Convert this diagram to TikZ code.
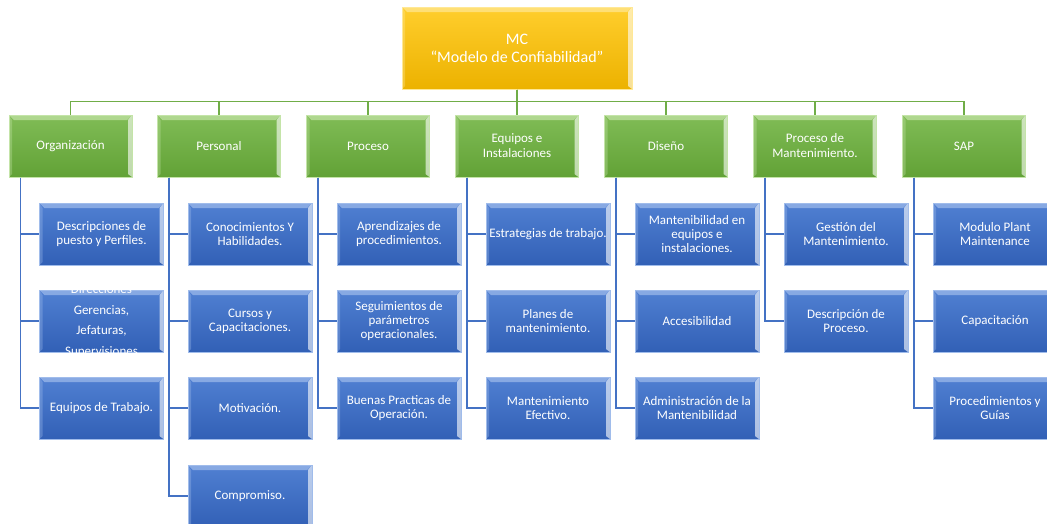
\documentclass[tikz,border=0pt]{standalone}
\usepackage{fontspec}
\setmainfont{Carlito}

\definecolor{mctop}{RGB}{255,206,45}
\definecolor{mcbot}{RGB}{236,178,0}
\definecolor{mclight}{RGB}{255,232,150}
\definecolor{grtop}{RGB}{128,188,86}
\definecolor{grbot}{RGB}{98,162,54}
\definecolor{grlight}{RGB}{196,228,168}
\definecolor{bltop}{RGB}{80,128,210}
\definecolor{blbot}{RGB}{50,96,182}
\definecolor{bllight}{RGB}{160,188,235}
\definecolor{grline}{RGB}{112,173,71}
\definecolor{blline}{RGB}{68,114,196}

\begin{document}
\begin{tikzpicture}[x=1pt, y=-1pt,
	bevel/.style={path picture={
		\fill[#1, opacity=0.7] (path picture bounding box.north west)--(path picture bounding box.north east)--([xshift=-5pt, yshift=-5pt]path picture bounding box.north east)--([xshift=5pt, yshift=-5pt]path picture bounding box.north west)--cycle;
		\fill[white, opacity=0.6] (path picture bounding box.north east)--(path picture bounding box.south east)--([xshift=-4pt, yshift=3pt]path picture bounding box.south east)--([xshift=-4pt, yshift=-5pt]path picture bounding box.north east)--cycle;
		\fill[#1, opacity=0.35] (path picture bounding box.north west)--(path picture bounding box.south west)--([xshift=3pt, yshift=3pt]path picture bounding box.south west)--([xshift=3pt, yshift=-5pt]path picture bounding box.north west)--cycle;}},
	mcbox/.style={rectangle, draw=mclight, line width=1pt, top color=mctop, bottom color=mcbot, bevel=mclight, text=white, minimum width=230pt, minimum height=82pt, inner sep=1pt, align=center, font=\fontsize{16}{18}\selectfont},
	areabox/.style={rectangle, draw=grlight, line width=1pt, top color=grtop, bottom color=grbot, bevel=grlight, text=white, minimum width=123pt, minimum height=62pt, inner sep=1pt, align=center, font=\fontsize{13}{15}\selectfont},
	itembox/.style={rectangle, draw=bllight, line width=1pt, top color=bltop, bottom color=blbot, bevel=bllight, text=white, minimum width=124pt, minimum height=62pt, inner sep=1pt, align=center, font=\fontsize{13}{14}\selectfont},
	greenline/.style={draw=grline, line width=1.6pt},
	blueline/.style={draw=blline, line width=1.6pt}]
		\useasboundingbox (0, 0) rectangle (1047, 523);
		% nivel superior
		\node(MC) at (517, 48)[mcbox]{MC\\``Modelo de Confiabilidad''};
		% areas
		\node(ORG) at (70.5, 146)[areabox]{Organización};
		\node(PER) at (219, 146)[areabox]{Personal};
		\node(PRO) at (368, 146)[areabox]{Proceso};
		\node(EQU) at (517, 146)[areabox]{Equipos e\\Instalaciones};
		\node(DIS) at (666, 146)[areabox]{Diseño};
		\node(PMA) at (815, 146)[areabox]{Proceso de\\Mantenimiento.};
		\node(SAP) at (964, 146)[areabox]{SAP};
		\draw[greenline] (MC.south)--++(0, 12)-|(ORG.north);
		\draw[greenline] (MC.south)--++(0, 12)-|(PER.north);
		\draw[greenline] (MC.south)--++(0, 12)-|(PRO.north);
		\draw[greenline] (MC.south)--(EQU.north);
		\draw[greenline] (MC.south)--++(0, 12)-|(DIS.north);
		\draw[greenline] (MC.south)--++(0, 12)-|(PMA.north);
		\draw[greenline] (MC.south)--++(0, 12)-|(SAP.north);
		% Organizacion
		\node(ORG1) at (101.5, 234)[itembox]{Descripciones de\\puesto y Perfiles.};
		\node(ORG2) at (101.5, 321)[itembox, label={[text=white, align=center, font=\fontsize{13}{20.5}\selectfont]center:{Direcciones\\Gerencias,\\Jefaturas,\\Supervisiones}}]{};
		\node(ORG3) at (101.5, 408)[itembox]{Equipos de Trabajo.};
		% Personal
		\node(PER1) at (250, 234)[itembox]{Conocimientos Y\\Habilidades.};
		\node(PER2) at (250, 321)[itembox]{Cursos y\\Capacitaciones.};
		\node(PER3) at (250, 408)[itembox]{Motivación.};
		\node(PER4) at (250, 496)[itembox]{Compromiso.};
		% Proceso
		\node(PRO1) at (399, 234)[itembox]{Aprendizajes de\\procedimientos.};
		\node(PRO2) at (399, 321)[itembox]{Seguimientos de\\parámetros\\operacionales.};
		\node(PRO3) at (399, 408)[itembox]{Buenas Practicas de\\Operación.};
		% Equipos e Instalaciones
		\node(EQU1) at (548, 234)[itembox]{Estrategias de trabajo.};
		\node(EQU2) at (548, 321)[itembox]{Planes de\\mantenimiento.};
		\node(EQU3) at (548, 408)[itembox]{Mantenimiento\\Efectivo.};
		% Diseno
		\node(DIS1) at (697, 234)[itembox]{Mantenibilidad en\\equipos e\\instalaciones.};
		\node(DIS2) at (697, 321)[itembox]{Accesibilidad};
		\node(DIS3) at (697, 408)[itembox]{Administración de la\\Mantenibilidad};
		% Proceso de Mantenimiento
		\node(PMA1) at (846, 234)[itembox]{Gestión del\\Mantenimiento.};
		\node(PMA2) at (846, 321)[itembox]{Descripción de\\Proceso.};
		% SAP
		\node(SAP1) at (995, 234)[itembox]{Modulo Plant\\Maintenance};
		\node(SAP2) at (995, 321)[itembox]{Capacitación};
		\node(SAP3) at (995, 408)[itembox]{Procedimientos y\\Guías};
		\draw[blueline] ([xshift=12pt]ORG.south west)|-(ORG1.west);
		\draw[blueline] ([xshift=12pt]ORG.south west)|-(ORG2.west);
		\draw[blueline] ([xshift=12pt]ORG.south west)|-(ORG3.west);
		\draw[blueline] ([xshift=12pt]PER.south west)|-(PER1.west);
		\draw[blueline] ([xshift=12pt]PER.south west)|-(PER2.west);
		\draw[blueline] ([xshift=12pt]PER.south west)|-(PER3.west);
		\draw[blueline] ([xshift=12pt]PER.south west)|-(PER4.west);
		\draw[blueline] ([xshift=12pt]PRO.south west)|-(PRO1.west);
		\draw[blueline] ([xshift=12pt]PRO.south west)|-(PRO2.west);
		\draw[blueline] ([xshift=12pt]PRO.south west)|-(PRO3.west);
		\draw[blueline] ([xshift=12pt]EQU.south west)|-(EQU1.west);
		\draw[blueline] ([xshift=12pt]EQU.south west)|-(EQU2.west);
		\draw[blueline] ([xshift=12pt]EQU.south west)|-(EQU3.west);
		\draw[blueline] ([xshift=12pt]DIS.south west)|-(DIS1.west);
		\draw[blueline] ([xshift=12pt]DIS.south west)|-(DIS2.west);
		\draw[blueline] ([xshift=12pt]DIS.south west)|-(DIS3.west);
		\draw[blueline] ([xshift=12pt]PMA.south west)|-(PMA1.west);
		\draw[blueline] ([xshift=12pt]PMA.south west)|-(PMA2.west);
		\draw[blueline] ([xshift=12pt]SAP.south west)|-(SAP1.west);
		\draw[blueline] ([xshift=12pt]SAP.south west)|-(SAP2.west);
		\draw[blueline] ([xshift=12pt]SAP.south west)|-(SAP3.west);
		\end{tikzpicture}
\end{document}
